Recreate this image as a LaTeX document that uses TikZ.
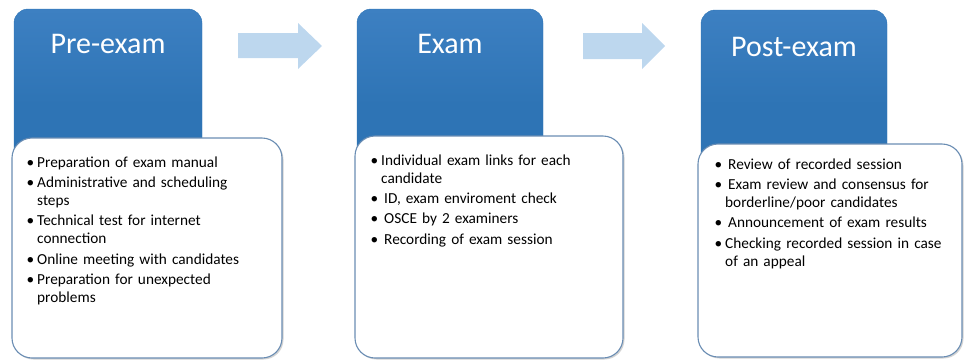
\documentclass[tikz,border=0pt]{standalone}
\usepackage{fontspec}
\setmainfont{Carlito}
\usepackage{enumitem}
\usetikzlibrary{shapes,shadows}

\definecolor{stageblue}{HTML}{2E74B5}
\definecolor{stagetop}{HTML}{3D80C2}
\definecolor{flowblue}{HTML}{BDD7EE}
\definecolor{listedge}{HTML}{6A8DB3}

\setlist[itemize]{label=\textbullet,leftmargin=8pt,labelsep=3pt,itemsep=2.5pt,topsep=0pt,parsep=0pt,partopsep=0pt}

\tikzset{
  stage/.style={draw=stageblue,rounded corners=14pt,top color=stagetop,bottom color=stageblue,middle color=stageblue},
  stagetitle/.style={anchor=base,text=white,font=\fontsize{30}{34}\selectfont},
  listbox/.style={draw=listedge,line width=1.1pt,fill=white,rounded corners=20pt,
    drop shadow={shadow xshift=1.5pt,shadow yshift=-1.5pt,opacity=0.35}},
  listtext/.style={anchor=north west,inner sep=0pt,text width=228pt,
    font=\fontsize{15.3}{17.8}\selectfont}
}

\begin{document}
\begin{tikzpicture}[x=1pt,y=-1pt]
      \useasboundingbox (0,0) rectangle (964,360);

      \draw [stage] (14,9) rectangle (202,200);
      \node [stagetitle] (pre) at (108,53) {Pre-exam};
      \draw [listbox] (12,138) rectangle (282,358);
      \node [listtext] (prelist) at (29,149.5) {\begin{itemize}
        \item Preparation of exam manual
        \item Administrative and scheduling steps
        \item Technical test for internet connection
        \item Online meeting with candidates
        \item Preparation for unexpected problems
      \end{itemize}};

      \fill [flowblue] (238,33) -- (298,33) -- (298,23) -- (322,46) -- (298,69) -- (298,58) -- (238,58) -- cycle;

      \draw [stage] (357,9) rectangle (543,200);
      \node [stagetitle] (exam) at (450,53) {Exam};
      \draw [listbox] (355,136) rectangle (623,358);
      \node [listtext] (examlist) at (373,147.5) {\begin{itemize}
        \item Individual exam links for each candidate
        \item \hspace{3pt}ID, exam enviroment check
        \item \hspace{3pt}OSCE by 2 examiners
        \item \hspace{3pt}Recording of exam session
      \end{itemize}};

      \fill [flowblue] (583,33) -- (642,33) -- (642,23) -- (665,46) -- (642,69) -- (642,59) -- (583,59) -- cycle;

      \draw [stage] (701,10) rectangle (887,200);
      \node [stagetitle] (post) at (794,56) {Post-exam};
      \draw [listbox] (698,144) rectangle (962,357);
      \node [listtext] (postlist) at (717,151.5) {\begin{itemize}
        \item \hspace{3pt}Review of recorded session
        \item \hspace{3pt}Exam review and consensus for borderline/poor candidates
        \item \hspace{3pt}Announcement of exam results
        \item Checking recorded session in case of an appeal
      \end{itemize}};
    \end{tikzpicture}
\end{document}
